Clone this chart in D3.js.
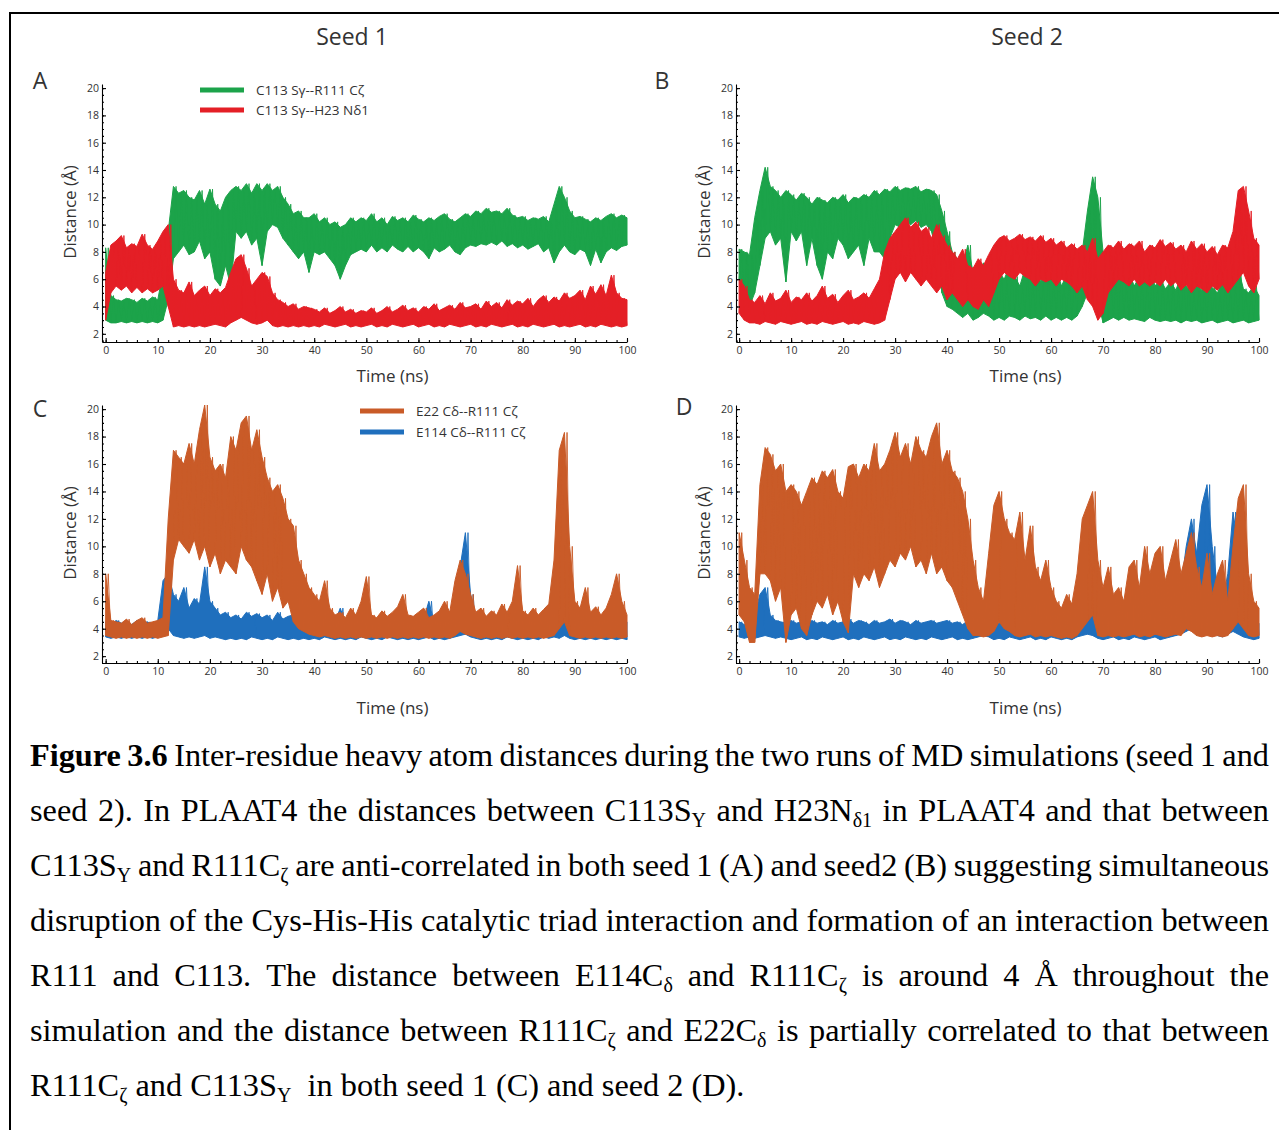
<!DOCTYPE html>
<html>
<head>
<meta charset="utf-8">
<script src="https://cdn.jsdelivr.net/npm/d3@7"></script>
<style>
    body { margin: 0; background: #fff; }
    svg text { font-family: "Open Sans", sans-serif; fill: #333; }
    .caption text { font-family: "Liberation Serif", "Times New Roman", serif; fill: #000; }
</style>
</head>
<body>
<div id="chart"></div>
<script>

/* * * * * * * * * * * * * *
*   distance traces (Å)    *
*   one lo/hi per ns 0-100 *
* * * * * * * * * * * * * */

// seed 1 - C113 Sγ--R111 Cζ
const s1GreenLo = [
    3.0,2.8,2.8,2.9,2.8,2.9,2.8,2.9,2.8,2.9,
    2.8,3.0,4.5,7.5,8.0,8.5,7.8,8.0,8.8,7.5,
    8.0,6.0,5.5,7.0,5.5,9.5,9.0,9.5,8.5,9.0,
    7.0,9.5,10.0,9.8,9.0,8.5,8.0,7.5,8.0,6.5,
    8.0,7.8,8.0,7.5,7.0,6.0,7.0,7.8,8.0,8.2,
    8.0,8.5,8.0,8.3,8.0,8.5,8.2,8.0,8.4,8.0,
    8.3,8.0,7.5,8.3,8.0,8.2,8.5,8.0,7.8,8.3,
    8.5,8.4,8.6,8.5,8.7,8.5,8.8,8.4,8.6,8.3,
    8.5,8.2,8.4,8.6,8.0,8.3,7.2,8.0,8.5,8.0,
    7.8,8.2,8.0,7.0,8.2,7.2,8.0,8.3,8.1,8.4,
    8.5];
const s1GreenHi = [
    8.3,4.8,4.5,4.4,4.6,4.5,4.3,4.6,4.4,4.7,
    4.5,6.5,9.5,12.8,12.3,12.5,12.0,11.8,12.5,11.5,
    12.6,11.5,11.0,12.0,12.5,12.8,12.5,13.0,12.3,13.0,
    12.5,13.0,12.5,12.8,12.0,11.5,10.8,11.0,10.5,10.5,
    10.8,10.2,10.5,10.0,10.2,9.8,10.0,10.5,10.2,10.5,
    10.3,10.8,10.2,10.5,10.0,10.6,10.3,10.5,10.2,10.7,
    10.4,10.2,10.5,10.3,10.6,10.8,10.4,10.2,10.5,10.8,
    10.6,11.0,10.8,11.2,10.9,11.0,10.8,11.2,10.7,10.5,
    10.6,10.3,10.5,10.4,10.6,10.2,11.5,12.8,12.0,11.0,
    10.5,10.6,10.4,10.2,10.5,10.3,10.6,10.8,10.5,10.7,
    10.5];

// seed 1 - C113 Sγ--H23 Nδ1
const s1RedLo = [
    3.0,5.0,5.5,5.2,5.5,5.0,5.4,5.0,5.3,5.0,
    5.2,5.5,4.0,2.5,2.6,2.5,2.6,2.5,2.6,2.5,
    2.6,2.7,2.6,2.5,2.8,3.0,3.2,3.0,2.8,2.7,
    2.8,3.0,2.6,2.5,2.6,2.5,2.6,2.5,2.6,2.5,
    2.6,2.5,2.7,2.6,2.5,2.6,2.7,2.5,2.6,2.5,
    2.6,2.7,2.5,2.6,2.5,2.7,2.6,2.5,2.6,2.7,
    2.5,2.6,2.7,2.5,2.6,2.5,2.7,2.6,2.5,2.6,
    2.7,2.5,2.6,2.5,2.7,2.6,2.5,2.6,2.7,2.5,
    2.6,2.5,2.7,2.6,2.5,2.6,2.7,2.5,2.6,2.5,
    2.6,2.7,2.5,2.6,2.5,2.7,2.6,2.5,2.6,2.5,
    2.6];
const s1RedHi = [
    6.5,8.5,8.8,9.2,8.3,8.6,8.4,9.3,8.5,8.2,
    8.8,9.5,10.0,6.0,5.2,5.0,5.8,4.8,5.2,5.5,
    4.8,5.3,5.0,5.4,6.5,7.5,7.8,6.8,5.5,6.0,
    6.5,6.2,5.0,4.5,4.3,4.0,4.2,3.8,4.0,3.9,
    3.8,3.6,3.9,3.5,3.7,4.0,3.6,3.8,3.5,3.7,
    3.6,3.9,3.5,3.7,4.0,3.6,3.8,4.1,3.7,3.9,
    3.6,4.0,3.8,4.2,3.7,3.9,4.1,3.8,4.3,3.9,
    4.0,4.2,3.8,4.4,4.0,4.3,3.9,4.5,4.1,4.4,
    4.2,4.6,4.0,4.5,4.8,4.3,4.7,4.4,5.0,4.6,
    4.8,5.2,4.5,5.5,4.9,5.6,4.8,6.3,5.0,4.6,
    4.5];

// seed 2 - C113 Sγ--R111 Cζ
const s2GreenLo = [
    6.0,4.5,4.0,5.0,7.0,9.0,9.5,8.5,9.0,5.8,
    9.5,8.8,9.5,7.0,9.0,7.0,6.0,8.0,7.5,9.0,
    8.5,7.5,8.0,8.5,7.0,9.0,8.0,8.0,7.5,9.0,
    10.0,9.8,10.2,10.0,10.3,9.8,10.0,9.5,8.0,5.0,
    4.0,3.8,3.5,3.2,3.5,3.0,3.2,3.5,3.3,3.0,
    3.2,3.0,3.3,3.2,3.0,3.3,3.1,3.2,3.0,3.3,
    3.0,3.2,3.0,3.2,3.0,3.3,4.0,5.0,6.0,4.5,
    2.8,3.0,3.2,3.0,3.2,3.0,3.1,3.0,2.9,3.2,
    3.0,2.9,3.0,2.9,3.0,2.8,3.0,2.9,3.0,2.8,
    2.9,3.0,2.8,2.9,3.0,2.8,2.9,3.0,2.8,2.9,
    3.0];
const s2GreenHi = [
    8.2,8.0,7.8,10.5,12.5,14.2,12.8,12.5,12.0,12.5,
    12.2,11.8,12.3,12.0,11.5,12.0,11.8,11.6,12.0,11.8,
    12.2,11.6,12.0,11.9,12.2,12.0,12.5,12.2,12.6,12.4,
    12.8,12.5,12.7,12.6,12.8,12.4,12.6,12.5,12.2,11.0,
    9.5,8.0,7.5,7.0,8.5,6.5,6.0,7.2,6.0,5.8,
    6.5,6.0,7.0,6.2,5.5,6.8,6.0,7.5,5.8,6.5,
    6.0,6.8,5.5,6.3,5.8,7.0,8.0,11.0,13.5,12.0,
    8.0,6.5,6.0,7.0,5.8,6.5,5.5,6.2,5.8,6.8,
    5.5,6.0,5.3,5.8,5.2,6.2,5.5,5.0,5.6,5.2,
    6.5,5.4,5.0,5.8,5.2,5.6,6.8,5.3,5.0,5.5,
    4.8];

// seed 2 - C113 Sγ--H23 Nδ1
const s2RedLo = [
    3.5,3.0,2.8,2.8,2.7,2.9,2.8,2.7,2.9,2.8,
    2.7,2.8,2.9,2.7,2.8,2.7,2.9,2.8,2.7,2.8,
    2.9,2.7,2.8,2.7,2.9,2.8,2.7,2.8,3.0,4.5,
    6.0,6.5,5.8,6.5,6.0,5.5,6.0,5.5,5.0,5.5,
    4.5,5.0,4.5,4.0,4.5,4.0,3.8,4.5,4.0,5.0,
    6.0,6.5,6.2,6.0,6.5,6.2,6.0,5.5,6.0,5.8,
    6.0,5.5,6.0,5.8,5.5,5.0,5.5,4.5,4.0,3.0,
    3.5,5.0,5.5,6.0,5.8,5.5,6.0,5.5,5.8,5.5,
    5.8,5.5,6.0,5.5,5.8,5.2,5.6,5.0,5.5,5.3,
    5.0,5.5,5.2,5.6,5.0,5.5,6.0,6.5,5.5,5.0,
    6.0];
const s2RedHi = [
    6.0,5.5,4.5,4.3,4.8,4.2,5.0,4.4,4.6,5.2,
    4.3,4.7,4.5,5.0,4.4,4.8,5.5,4.6,4.9,4.3,
    4.8,5.2,4.5,4.7,5.0,4.6,5.3,6.0,8.0,9.0,
    9.5,10.0,10.5,9.8,10.2,9.5,9.8,9.0,10.0,9.2,
    8.5,8.0,7.5,8.2,7.0,6.8,7.5,7.0,7.8,8.5,
    9.0,9.2,8.8,9.0,9.3,8.9,9.1,8.8,9.2,8.7,
    9.0,8.5,8.8,8.3,8.6,8.2,8.5,8.0,9.0,7.5,
    8.0,8.5,8.3,8.8,8.2,8.6,8.4,8.8,8.0,8.5,
    8.3,8.9,8.4,8.7,8.2,8.5,8.0,8.8,8.2,8.6,
    8.0,8.4,7.8,8.5,8.3,9.5,12.5,12.8,11.0,9.0,
    8.5];

// seed 1 - E22 Cδ--R111 Cζ
const s1OrangeLo = [
    3.5,3.4,3.3,3.4,3.3,3.4,3.3,3.4,3.3,3.4,
    3.3,3.4,3.5,9.0,10.5,10.0,9.5,10.5,9.0,10.0,
    8.5,9.5,8.0,9.0,8.5,8.0,10.0,9.0,8.5,7.5,
    6.5,8.0,6.0,7.0,5.5,6.0,4.5,4.0,3.8,3.6,
    3.5,3.4,3.5,3.4,3.3,3.4,3.3,3.4,3.3,3.4,
    3.3,3.4,3.3,3.4,3.3,3.4,3.3,3.4,3.3,3.4,
    3.3,3.4,3.3,3.4,3.3,3.4,3.3,3.5,3.8,3.6,
    3.5,3.4,3.3,3.4,3.3,3.4,3.3,3.4,3.3,3.4,
    3.3,3.4,3.3,3.4,3.3,3.4,3.5,4.0,4.5,3.5,
    3.4,3.3,3.4,3.3,3.4,3.3,3.4,3.3,3.4,3.3,
    3.4];
const s1OrangeHi = [
    8.0,4.6,4.5,4.4,4.7,4.3,4.6,4.8,4.4,4.5,
    4.6,4.8,12.0,17.0,16.5,16.0,17.5,16.0,18.5,20.3,
    16.5,15.5,16.0,15.0,18.0,17.0,19.0,19.5,17.0,18.5,
    16.5,15.0,14.0,14.5,13.5,12.0,11.5,9.0,8.0,7.0,
    6.5,6.0,7.5,5.5,5.0,5.2,4.8,5.5,5.0,6.0,
    7.8,5.0,4.8,5.3,4.9,5.2,5.6,6.5,5.0,4.9,
    5.2,5.5,4.8,5.0,5.3,6.0,5.2,7.5,9.0,8.0,
    6.5,5.2,5.5,4.9,5.3,5.0,5.8,5.2,6.0,8.6,
    5.3,5.0,5.5,5.0,5.4,5.8,9.0,17.0,18.3,10.0,
    6.0,5.5,7.0,5.2,5.6,5.0,5.5,6.5,8.0,6.0,
    5.0];

// seed 1 - E114 Cδ--R111 Cζ
const s1BlueLo = [
    3.4,3.3,3.4,3.3,3.4,3.3,3.4,3.3,3.4,3.3,
    3.4,3.8,4.0,3.5,3.4,3.3,3.4,3.3,3.4,3.5,
    3.3,3.4,3.3,3.2,3.3,3.2,3.3,3.2,3.4,3.3,
    3.2,3.3,3.2,3.4,3.3,3.2,3.3,3.2,3.3,3.2,
    3.3,3.2,3.4,3.3,3.2,3.3,3.2,3.3,3.2,3.4,
    3.3,3.2,3.3,3.2,3.4,3.3,3.2,3.3,3.2,3.3,
    3.2,3.3,3.4,3.2,3.3,3.2,3.3,3.4,3.5,3.6,
    3.4,3.3,3.2,3.3,3.2,3.3,3.2,3.4,3.3,3.2,
    3.3,3.2,3.3,3.2,3.4,3.3,3.4,3.3,3.5,3.3,
    3.2,3.3,3.2,3.3,3.2,3.3,3.2,3.3,3.2,3.3,
    3.2];
const s1BlueHi = [
    4.5,4.3,4.6,4.4,4.5,4.3,4.6,4.4,4.5,4.3,
    4.6,7.5,8.0,6.5,6.0,7.0,5.5,6.2,5.8,8.5,
    6.0,5.5,5.0,5.2,4.8,5.0,4.7,5.2,4.9,5.1,
    4.8,5.0,4.6,5.2,4.7,4.9,5.0,4.6,4.5,4.4,
    4.5,4.3,4.6,4.4,4.5,5.5,4.4,4.6,4.3,4.5,
    4.4,4.6,4.3,4.5,4.7,4.4,4.5,4.3,4.6,4.4,
    4.5,4.7,6.0,4.4,4.6,4.3,4.5,5.0,8.5,11.0,
    6.5,4.6,4.4,4.5,4.3,4.6,4.4,4.5,4.7,4.4,
    4.5,4.3,4.6,4.4,4.5,4.7,5.5,4.6,6.0,4.5,
    4.4,4.6,4.3,4.5,4.4,4.6,4.3,4.5,4.4,4.6,
    4.5];

// seed 2 - E22 Cδ--R111 Cζ
const s2OrangeLo = [
    5.0,4.5,3.0,3.0,8.0,8.0,7.5,6.0,7.0,3.0,
    5.0,5.5,4.0,3.5,5.0,6.0,5.5,6.5,5.0,6.0,
    4.5,3.7,8.0,7.0,8.0,7.5,8.5,7.0,8.0,9.0,
    8.5,9.5,9.0,10.0,8.5,9.0,8.0,9.5,8.0,8.5,
    7.5,7.0,6.0,5.0,4.0,3.5,3.5,3.4,3.5,3.8,
    4.5,4.0,3.8,3.5,3.4,3.5,3.6,3.4,3.5,3.4,
    3.5,3.4,3.3,3.4,3.3,3.5,4.0,4.5,5.0,3.5,
    3.4,3.5,3.4,3.5,3.4,3.5,3.6,3.4,3.5,3.4,
    3.6,3.5,3.4,3.5,3.6,3.5,4.0,3.8,3.5,3.4,
    3.5,3.4,3.5,3.4,3.5,4.0,4.5,4.0,3.5,3.4,
    3.5];
const s2OrangeHi = [
    11.0,9.0,7.0,6.5,14.5,17.2,16.7,15.5,16.0,14.0,
    14.5,14.0,13.0,14.0,15.0,14.5,15.5,15.0,15.6,14.0,
    13.5,15.8,16.0,15.0,16.0,15.5,17.5,15.5,16.0,17.0,
    18.3,16.5,17.5,16.0,18.0,17.0,16.5,18.0,19.0,16.0,
    17.0,15.5,15.0,14.0,12.0,9.0,7.0,6.0,9.5,13.0,
    14.0,12.0,11.0,10.5,12.5,9.0,11.5,8.5,7.5,9.0,
    7.0,6.0,5.5,6.5,5.8,8.0,12.0,13.0,14.0,9.0,
    7.0,8.5,6.5,7.0,6.0,8.5,9.0,7.0,10.0,8.0,
    9.5,10.0,7.5,9.0,10.5,8.0,9.5,11.0,8.5,7.0,
    9.5,6.5,8.0,9.0,6.0,10.0,13.5,14.5,8.0,6.0,
    5.5];

// seed 2 - E114 Cδ--R111 Cζ
const s2BlueLo = [
    3.4,3.3,3.4,3.3,3.4,3.5,3.4,3.3,3.4,3.3,
    3.2,3.3,3.4,3.2,3.3,3.2,3.4,3.3,3.2,3.3,
    3.4,3.2,3.3,3.2,3.4,3.3,3.2,3.3,3.4,3.2,
    3.3,3.2,3.4,3.3,3.2,3.3,3.2,3.4,3.3,3.2,
    3.3,3.4,3.2,3.3,3.2,3.3,3.4,3.5,3.4,3.2,
    3.3,3.2,3.4,3.3,3.2,3.3,3.4,3.2,3.3,3.2,
    3.4,3.3,3.2,3.3,3.2,3.4,3.5,3.6,3.5,3.3,
    3.2,3.3,3.4,3.2,3.3,3.2,3.4,3.3,3.2,3.3,
    3.4,3.2,3.3,3.4,3.5,3.6,3.8,4.0,3.7,3.9,
    4.0,3.8,3.5,3.4,3.6,3.8,3.6,3.4,3.3,3.2,
    3.3];
const s2BlueHi = [
    4.5,4.3,4.6,5.0,6.5,7.0,5.0,4.6,4.5,4.4,
    4.6,4.4,4.5,4.3,4.6,4.4,4.5,4.3,4.6,4.4,
    4.5,4.7,4.4,4.6,4.5,4.3,4.6,4.4,4.5,4.7,
    4.4,4.6,4.5,4.3,4.6,4.4,4.5,4.6,4.4,4.5,
    4.6,4.4,4.5,4.3,4.6,4.5,4.7,5.5,5.0,4.5,
    4.4,4.6,4.5,4.3,4.6,4.4,4.5,4.7,4.4,4.6,
    4.5,4.3,4.6,4.4,4.5,4.7,5.5,6.0,6.5,5.5,
    4.8,4.5,4.6,4.4,4.5,4.3,4.6,4.4,4.7,4.5,
    4.6,4.4,4.5,4.8,6.0,7.0,10.0,12.0,9.5,13.0,
    14.5,10.0,7.0,6.0,8.0,12.5,10.0,6.0,4.6,4.5,
    4.4];

// axis ticks and labels
const xTicks = [0, 10, 20, 30, 40, 50, 60, 70, 80, 90, 100];
const xMinorTicks = d3.range(0, 101, 2);
const yTicks = [2, 4, 6, 8, 10, 12, 14, 16, 18, 20];
const yMinorTicks = d3.range(1.5, 20.01, 0.5);

const seedTitles = ["Seed 1", "Seed 2"];
const legendTop = ["C113 Sγ--R111 Cζ", "C113 Sγ--H23 Nδ1"];
const legendBottom = ["E22 Cδ--R111 Cζ", "E114 Cδ--R111 Cζ"];

const colors = {green: "#1ca34a", red: "#e41f26", orange: "#c95b28", blue: "#1f6fbd"};

// caption: ^ = bold word, _ = subscript tail
const captionLines = [
    "^Figure ^3.6 Inter-residue heavy atom distances during the two runs of MD simulations (seed 1 and",
    "seed 2). In PLAAT4 the distances between C113S_Y and H23N_δ1 in PLAAT4 and that between",
    "C113S_Y and R111C_ζ are anti-correlated in both seed 1 (A) and seed2 (B) suggesting simultaneous",
    "disruption of the Cys-His-His catalytic triad interaction and formation of an interaction between",
    "R111 and C113. The distance between E114C_δ and R111C_ζ is around 4 Å throughout the",
    "simulation and the distance between R111C_ζ and E22C_δ is partially correlated to that between",
    "R111C_ζ and C113S_Y  in both seed 1 (C) and seed 2 (D)."
];


/* * * * * * * * * * * * * *
*          layout          *
* * * * * * * * * * * * * */

const panels = [
    {letter: "A", lx: 40, ly: 80, xr: [102, 627], xd: [-0.7, 100], yr: [342, 84], yd: [1.4, 20.3], tGap: 40,
        series: [[s1GreenLo, s1GreenHi, colors.green], [s1RedLo, s1RedHi, colors.red]]},
    {letter: "B", lx: 662, ly: 80, xr: [736, 1259], xd: [-0.6, 100], yr: [342, 84], yd: [1.4, 20.3], tGap: 40,
        series: [[s2GreenLo, s2GreenHi, colors.green], [s2RedLo, s2RedHi, colors.red]]},
    {letter: "C", lx: 40, ly: 408, xr: [102, 627], xd: [-0.7, 100], yr: [663, 405], yd: [1.5, 20.3], tGap: 51,
        series: [[s1BlueLo, s1BlueHi, colors.blue], [s1OrangeLo, s1OrangeHi, colors.orange]]},
    {letter: "D", lx: 684, ly: 406, xr: [736, 1259], xd: [-0.6, 100], yr: [663, 405], yd: [1.5, 20.3], tGap: 51,
        series: [[s2BlueLo, s2BlueHi, colors.blue], [s2OrangeLo, s2OrangeHi, colors.orange]]}
];

const svg = d3.select("#chart").append("svg")
    .attr("width", 1279)
    .attr("height", 1130);

// frame (only top and left edges fall inside the picture)
svg.append("path")
    .attr("d", "M10,1130V13H1279")
    .attr("fill", "none")
    .attr("stroke", "#000")
    .attr("stroke-width", 2);

// seed titles
svg.selectAll(".seed-title")
    .data(seedTitles)
    .enter().append("text")
    .attr("class", "seed-title")
    .attr("x", (d, i) => i === 0 ? 352 : 1027)
    .attr("y", 45)
    .attr("text-anchor", "middle")
    .style("font-size", "23px")
    .text(d => d);

panels.forEach((p, pi) => {

    let x = d3.scaleLinear().domain(p.xd).range(p.xr);
    let y = d3.scaleLinear().domain(p.yd).range(p.yr);

    let g = svg.append("g");

    svg.append("defs").append("clipPath")
        .attr("id", "clip" + pi)
        .append("rect")
        .attr("x", p.xr[0] + 1)
        .attr("y", p.yr[1])
        .attr("width", p.xr[1] - p.xr[0])
        .attr("height", p.yr[0] - p.yr[1] - 1);

    // traces: band between the low and high reading of every ns,
    // plus a thin zig-zag through the same readings for the noisy edge
    let area = d3.area()
        .x(d => x(d[0]))
        .y0(d => y(d[1]))
        .y1(d => y(d[2]));

    let line = d3.line()
        .x(d => x(d[0]))
        .y(d => y(d[1]));

    p.series.forEach(([lo, hi, col]) => {
        let pts = lo.map((v, i) => [i, v, hi[i]]);
        g.append("path")
            .attr("clip-path", `url(#clip${pi})`)
            .attr("d", area(pts))
            .attr("fill", col)
            .attr("stroke", col)
            .attr("stroke-width", 1)
            .attr("stroke-linejoin", "miter");

        let zig = [];
        lo.forEach((v, i) => {
            zig.push([i, v]);
            if (i < 100) zig.push([i + 0.5, hi[i]]);
        });
        g.append("path")
            .attr("clip-path", `url(#clip${pi})`)
            .attr("d", line(zig))
            .attr("fill", "none")
            .attr("stroke", col)
            .attr("stroke-width", 0.9);
    });

    // axes
    g.append("g")
        .attr("class", "axis")
        .attr("transform", `translate(0,${p.yr[0]})`)
        .call(d3.axisBottom(x).tickValues(xTicks).tickSizeInner(-4).tickSizeOuter(0).tickPadding(5));

    g.append("g")
        .attr("transform", `translate(0,${p.yr[0]})`)
        .call(d3.axisBottom(x).tickValues(xMinorTicks).tickSizeInner(-2).tickSizeOuter(0).tickFormat(""))
        .select(".domain").remove();

    g.append("g")
        .attr("class", "axis")
        .attr("transform", `translate(${p.xr[0]},0)`)
        .call(d3.axisLeft(y).tickValues(yTicks).tickSizeInner(-4).tickSizeOuter(0).tickPadding(3));

    g.append("g")
        .attr("transform", `translate(${p.xr[0]},0)`)
        .call(d3.axisLeft(y).tickValues(yMinorTicks).tickSizeInner(-2).tickSizeOuter(0).tickFormat(""))
        .select(".domain").remove();

    g.selectAll(".axis text")
        .style("font-family", '"Open Sans", sans-serif')
        .style("font-size", "10.5px")
        .style("fill", "#333");
    g.selectAll(".domain, .tick line")
        .attr("stroke", "#000")
        .attr("stroke-width", 1.1);

    // panel letter
    svg.append("text")
        .attr("x", p.lx)
        .attr("y", p.ly + 9)
        .attr("text-anchor", "middle")
        .style("font-size", "23px")
        .text(p.letter);

    // axis titles
    let midX = (p.xr[0] + p.xr[1]) / 2;
    let midY = (p.yr[0] + p.yr[1]) / 2 - 1;
    svg.append("text")
        .attr("x", midX + 28)
        .attr("y", p.yr[0] + p.tGap)
        .attr("text-anchor", "middle")
        .style("font-size", "17px")
        .text("Time (ns)");

    svg.append("text")
        .attr("transform", `translate(${p.xr[0] - 26},${midY}) rotate(-90)`)
        .attr("text-anchor", "middle")
        .style("font-size", "17px")
        .text("Distance (Å)");
});

// legends
function drawLegend(labels, cols, x0, y0, dy) {
    labels.forEach((lab, i) => {
        svg.append("line")
            .attr("x1", x0).attr("x2", x0 + 44)
            .attr("y1", y0 + i * dy).attr("y2", y0 + i * dy)
            .attr("stroke", cols[i])
            .attr("stroke-width", 5);
        svg.append("text")
            .attr("x", x0 + 56)
            .attr("y", y0 + i * dy + 5)
            .style("font-size", "13.5px")
            .text(lab);
    });
}
drawLegend(legendTop, [colors.green, colors.red], 200, 90, 20);
drawLegend(legendBottom, [colors.orange, colors.blue], 360, 411, 21);


/* * * * * * * * * * * * * *
*         caption          *
* * * * * * * * * * * * * */

const cap = svg.append("g").attr("class", "caption");
const capLeft = 30, capRight = 1269, capTop = 766, capStep = 55, capSize = 32.3;

captionLines.forEach((str, li) => {
    let yy = capTop + li * capStep;
    let words = str.split(" ");
    let nodes = words.map(w => {
        let t = cap.append("text").attr("y", yy).style("font-size", capSize + "px");
        let bold = w.startsWith("^");
        if (bold) w = w.slice(1);
        let parts = w.split("_");
        let main = t.append("tspan").text(parts[0]);
        if (bold) main.style("font-weight", "bold");
        if (parts.length > 1) {
            t.append("tspan")
                .text(parts[1])
                .style("font-size", Math.round(capSize * 0.62) + "px")
                .attr("dy", 6);
        }
        return t;
    });

    let widths = nodes.map(n => n.node().getComputedTextLength());
    let total = d3.sum(widths);
    let last = li === captionLines.length - 1;
    let gap = last ? capSize * 0.25 : (capRight - capLeft - total) / (words.length - 1);

    let xx = capLeft;
    nodes.forEach((n, i) => {
        n.attr("x", xx);
        n.selectAll("tspan").filter((d, j) => j === 0).attr("x", xx);
        xx += widths[i] + gap;
    });
});

</script>
</body>
</html>
